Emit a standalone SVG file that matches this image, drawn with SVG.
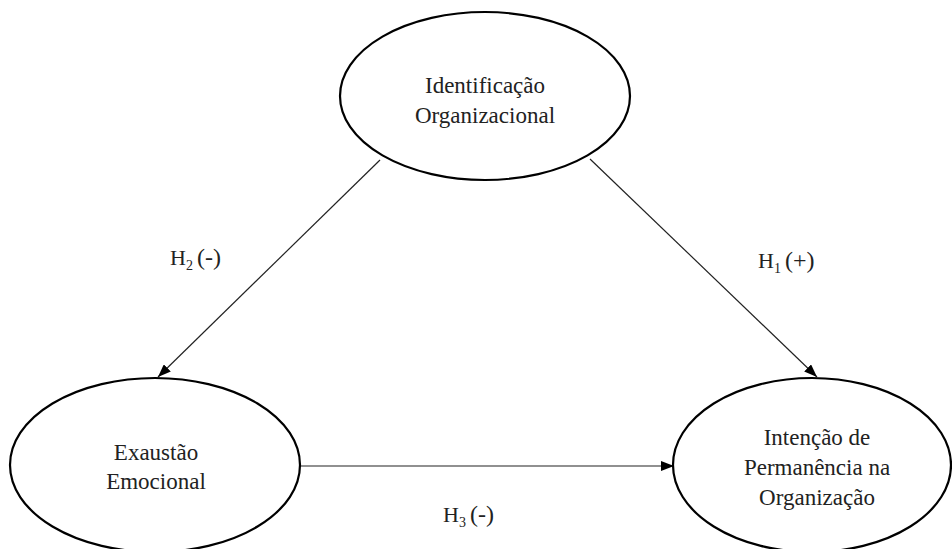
<svg xmlns="http://www.w3.org/2000/svg" width="952" height="549" viewBox="0 0 952 549">
<style>
.node{fill:#fff;stroke:#000;stroke-width:2.2}
text{font-family:'Liberation Serif','Times New Roman',Times,serif}
.t{font-size:23px;fill:#222;text-anchor:middle}
.lbl{font-size:22px;fill:#222}
.sub{font-size:14px}
.par{font-size:24px}
.edge{stroke:#222;stroke-width:1.2;fill:none;marker-end:url(#ah)}
</style>
<defs>
<marker id="ah" viewBox="0 0 13 10" refX="13" refY="5" markerWidth="13" markerHeight="10" markerUnits="userSpaceOnUse" orient="auto">
<path d="M0,0 L13,5 L0,10 Z" fill="#000"/>
</marker>
</defs>
<rect width="952" height="549" fill="#fff"/>
<g id="connectors">
<line class="edge" x1="380" y1="160" x2="158" y2="377"/>
<line class="edge" x1="590" y1="159" x2="817" y2="377"/>
<line class="edge" x1="300" y1="466" x2="674" y2="466"/>
</g>
<g id="node-identificacao">
<ellipse class="node" cx="485" cy="96" rx="145" ry="84"/>
<text class="t" x="485" y="93">Identificação</text>
<text class="t" x="485" y="123">Organizacional</text>
</g>
<g id="node-exaustao">
<ellipse class="node" cx="155" cy="465" rx="145" ry="87"/>
<text class="t" x="156" y="460">Exaustão</text>
<text class="t" x="156" y="489">Emocional</text>
</g>
<g id="node-intencao">
<ellipse class="node" cx="812" cy="465" rx="139" ry="87"/>
<text class="t" x="817" y="445">Intenção de</text>
<text class="t" x="817" y="475">Permanência na</text>
<text class="t" x="817" y="505">Organização</text>
</g>
<g id="labels">
<text class="lbl" x="170" y="265">H<tspan class="sub" dy="5">2</tspan><tspan class="par" dy="-5" dx="4">(-)</tspan></text>
<text class="lbl" x="758" y="268">H<tspan class="sub" dy="5">1</tspan><tspan class="par" dy="-5" dx="4">(+)</tspan></text>
<text class="lbl" x="443" y="522">H<tspan class="sub" dy="5">3</tspan><tspan class="par" dy="-5" dx="4">(-)</tspan></text>
</g>
</svg>
